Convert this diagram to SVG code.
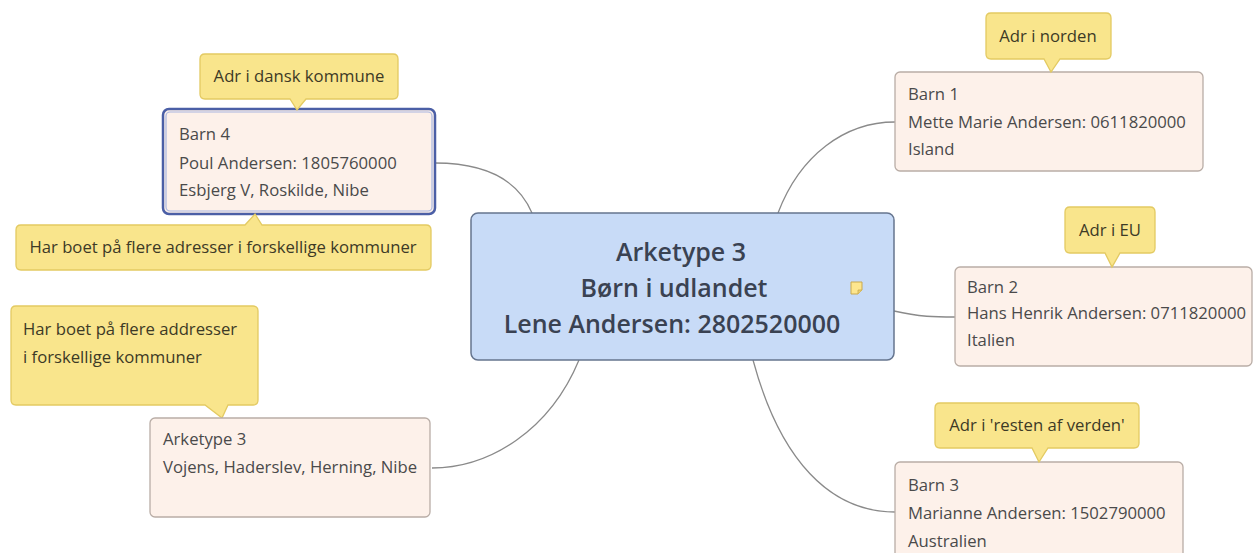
<svg xmlns="http://www.w3.org/2000/svg" width="1255" height="553" viewBox="0 0 1255 553">
<style>
.bg{fill:#ffffff}
.node{fill:#fdf1ea;stroke:#b9ada6;stroke-width:1.3}
.txt{font-family:"Open Sans","Liberation Sans",sans-serif;font-size:16.7px;fill:#4a4a4a}
.call{fill:#f9e58c;stroke:#e3ca62;stroke-width:1.3}
.ctxt{font-family:"Open Sans","Liberation Sans",sans-serif;font-size:16.7px;fill:#3d3a26;text-anchor:middle}
.ltxt{font-family:"Open Sans","Liberation Sans",sans-serif;font-size:16.7px;fill:#3d3a26}
.main{fill:#c8dbf7;stroke:#66758f;stroke-width:1.5}
.mtxt{font-family:"Open Sans","Liberation Sans",sans-serif;font-size:25px;font-weight:600;fill:#3a4252;text-anchor:middle}
.conn{fill:none;stroke:#8a8a8a;stroke-width:1.3}
</style>
<rect class="bg" x="0" y="0" width="1255" height="553"/>
<g id="connectors">
<path class="conn" d="M435,163 C485,163 518,180 532,213"/>
<path class="conn" d="M778,213 C800,155 845,122 895,122"/>
<path class="conn" d="M894,311 C920,317 935,317 955,317"/>
<path class="conn" d="M753,360 C780,460 830,512 895,512"/>
<path class="conn" d="M579,360 C550,430 490,468 432,468"/>
</g>
<g id="central">
<rect class="main" x="471" y="213" width="423" height="147" rx="7"/>
<text class="mtxt" x="681" y="261">Arketype 3</text>
<text class="mtxt" x="674" y="297">Børn i udlandet</text>
<text class="mtxt" x="672" y="333">Lene Andersen: 2802520000</text>
<g id="note-icon">
<path d="M851,282 H862 V290 L858,294 H851 Z" fill="#fde68e" stroke="#c9a94e" stroke-width="1"/>
<path d="M862,290 L858,290 L858,294" fill="#e9cf74" stroke="#c9a94e" stroke-width="0.8"/>
</g>
</g>
<g id="barn4">
<rect x="163" y="109" width="272" height="105" rx="6" fill="#fdf1ea" stroke="#4b5fa6" stroke-width="2.5"/>
<rect x="166" y="112" width="266" height="99" rx="4" fill="none" stroke="#a9b6e0" stroke-width="1.2"/>
<text class="txt" x="179" y="140">Barn 4</text>
<text class="txt" x="179" y="169">Poul Andersen: 1805760000</text>
<text class="txt" x="179" y="196">Esbjerg V, Roskilde, Nibe</text>
</g>
<g id="callout-dansk">
<path class="call" d="M205,54 H393 Q398,54 398,59 V94 Q398,99 393,99 H306 L297,110 L290,99 H205 Q200,99 200,94 V59 Q200,54 205,54 Z"/>
<text class="ctxt" x="299" y="82">Adr i dansk kommune</text>
</g>
<g id="callout-flere1">
<path class="call" d="M21,225 H245 L255,214 L262,225 H426 Q431,225 431,230 V265 Q431,270 426,270 H21 Q16,270 16,265 V230 Q16,225 21,225 Z"/>
<text class="ctxt" x="223" y="253">Har boet på flere adresser i forskellige kommuner</text>
</g>
<g id="callout-flere2">
<path class="call" d="M16,306 H253 Q258,306 258,311 V400 Q258,405 253,405 H228 L222,418 L205,405 H16 Q11,405 11,400 V311 Q11,306 16,306 Z"/>
<text class="ltxt" x="23" y="335">Har boet på flere addresser</text>
<text class="ltxt" x="23" y="363">i forskellige kommuner</text>
</g>
<g id="arketype3">
<rect class="node" x="150" y="418" width="280" height="99" rx="5"/>
<text class="txt" x="163" y="445">Arketype 3</text>
<text class="txt" x="163" y="473">Vojens, Haderslev, Herning, Nibe</text>
</g>
<g id="barn1">
<rect class="node" x="895" y="72" width="308" height="99" rx="5"/>
<text class="txt" x="908" y="100">Barn 1</text>
<text class="txt" x="908" y="128">Mette Marie Andersen: 0611820000</text>
<text class="txt" x="908" y="155">Island</text>
</g>
<g id="callout-norden">
<path class="call" d="M991,13 H1106 Q1111,13 1111,18 V54 Q1111,59 1106,59 H1060 L1051,72 L1044,59 H991 Q986,59 986,54 V18 Q986,13 991,13 Z"/>
<text class="ctxt" x="1048" y="42">Adr i norden</text>
</g>
<g id="barn2">
<rect class="node" x="955" y="267" width="297" height="99" rx="5"/>
<text class="txt" x="967" y="293">Barn 2</text>
<text class="txt" x="967" y="319">Hans Henrik Andersen: 0711820000</text>
<text class="txt" x="967" y="346">Italien</text>
</g>
<g id="callout-eu">
<path class="call" d="M1070,207 H1150 Q1155,207 1155,212 V248 Q1155,253 1150,253 H1120 L1112,267 L1105,253 H1070 Q1065,253 1065,248 V212 Q1065,207 1070,207 Z"/>
<text class="ctxt" x="1110" y="236">Adr i EU</text>
</g>
<g id="barn3">
<rect class="node" x="895" y="462" width="288" height="110" rx="5"/>
<text class="txt" x="908" y="491">Barn 3</text>
<text class="txt" x="908" y="519">Marianne Andersen: 1502790000</text>
<text class="txt" x="908" y="547">Australien</text>
</g>
<g id="callout-verden">
<path class="call" d="M940,403 H1134 Q1139,403 1139,408 V443 Q1139,448 1134,448 H1048 L1039,462 L1032,448 H940 Q935,448 935,443 V408 Q935,403 940,403 Z"/>
<text class="ctxt" x="1037" y="431">Adr i 'resten af verden'</text>
</g>
</svg>
